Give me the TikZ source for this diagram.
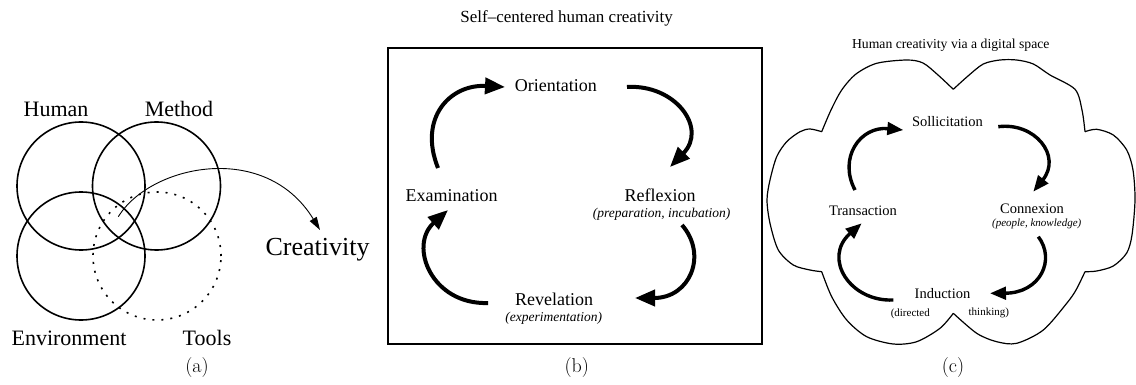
\documentclass[tikz,border=0pt]{standalone}
\usepackage{fontspec}
\usetikzlibrary{arrows.meta}
\newfontfamily\tnr{Liberation Serif}
\tikzset{
  ring/.style={circle, draw, line width=1.6pt, minimum size=128pt, inner sep=0},
  dotring/.style={ring, dash pattern=on 2pt off 7pt},
  biglbl/.style={font=\tnr\fontsize{22}{24}\selectfont, inner sep=0, anchor=base},
  crlbl/.style={font=\tnr\fontsize{26}{28}\selectfont, inner sep=0, anchor=base},
  sublbl/.style={font=\fontsize{20}{22}\selectfont, inner sep=0},
  titleb/.style={font=\tnr\fontsize{17}{19}\selectfont, inner sep=0, anchor=base},
  stageb/.style={font=\tnr\fontsize{18}{20}\selectfont, inner sep=0, anchor=base},
  noteb/.style={font=\tnr\itshape\fontsize{13.5}{15}\selectfont, inner sep=0},
  titlec/.style={font=\tnr\fontsize{13.7}{15}\selectfont, inner sep=0, anchor=base},
  stagec/.style={font=\tnr\fontsize{14.5}{16}\selectfont, inner sep=0, anchor=base},
  notec/.style={font=\tnr\itshape\fontsize{11}{12}\selectfont, inner sep=0},
  smallc/.style={font=\tnr\fontsize{11}{12}\selectfont, inner sep=0},
  thinarrow/.style={line width=0.9pt, -{Triangle[length=13pt,width=8pt]}},
  cyclearrowb/.style={line width=4pt, -{Triangle[length=20pt,width=16pt]}},
  cyclearrowc/.style={line width=3.4pt, -{Triangle[length=16pt,width=12.5pt]}},
  cloudline/.style={line width=1.2pt, line join=miter},
}
\begin{document}
\begin{tikzpicture}[x=1pt,y=-1pt]
\useasboundingbox (0,0) rectangle (1136,385);

% ---------------- (a) ----------------
\node[ring] (human) at (81,186) {};
\node[ring] (method) at (156.5,186) {};
\node[ring] (env) at (81,256) {};
\node[dotring] (tools) at (157,256) {};
\node[biglbl] (humanl) at (56,116.7) {Human};
\node[biglbl] (methodl) at (179,116.7) {Method};
\node[biglbl] (envl) at (69,345) {Environment};
\node[biglbl] (toolsl) at (207,345) {Tools};
\node[crlbl] (creat) at (317.5,255) {Creativity};
\coordinate (astart) at (118.3,216.7);
\coordinate (aend) at (320,230);
\draw[thinarrow] (astart) .. controls (150,165) and (265,140) .. (aend);
\node[sublbl] (la) at (197,368) {(a)};

% ---------------- (b) ----------------
\node[titleb] (titb) at (566.7,22.5) {Self\textendash centered human creativity};
\draw[line width=2pt] (388,48) rectangle (762,344);
\node[stageb] (orient) at (555.8,91.7) {Orientation};
\node[stageb] (exam) at (451.7,201.7) {Examination};
\node[stageb] (reflex) at (660,201.7) {Reflexion};
\node[noteb] (reflexn) at (661.7,213.8) {(preparation, incubation)};
\node[stageb] (revel) at (554,305) {Revelation};
\node[noteb] (reveln) at (553.8,318) {(experimentation)};
\coordinate (b1s) at (438,168);   \coordinate (b1e) at (505,87);
\coordinate (b2s) at (627,87);    \coordinate (b2e) at (670,167);
\coordinate (b3s) at (682,225);   \coordinate (b3e) at (635,298);
\coordinate (b4s) at (488,303);   \coordinate (b4e) at (448,210);
\draw[cyclearrowb] (b1s) .. controls (418,118) and (450,84) .. (b1e);
\draw[cyclearrowb] (b2s) .. controls (675,84) and (708,128) .. (b2e);
\draw[cyclearrowb] (b3s) .. controls (708,255) and (690,298) .. (b3e);
\draw[cyclearrowb] (b4s) .. controls (432,305) and (408,246) .. (b4e);
\node[sublbl] (lb) at (576.7,368) {(b)};

% ---------------- (c) ----------------
\node[titlec] (titc) at (950.8,48.5) {Human creativity via a digital space};
\draw[cloudline]
  plot[smooth,tension=0.5] coordinates {(821.7,131.7) (831,110) (841.7,90) (856,74) (876.7,63.3) (906.7,60) (923,63) (938,75) (953.3,89.3)}
  plot[smooth,tension=0.5] coordinates {(953.3,89.3) (968,76) (983.3,64) (1000,60) (1016.7,60) (1033.3,64) (1050,75) (1075,89.3) (1082,110) (1085,131.7)}
  plot[smooth,tension=0.5] coordinates {(1085,131.7) (1096.7,129.3) (1113.3,135) (1126.7,150) (1133,170) (1135,200) (1132,235) (1126.7,253) (1113.3,266) (1096.7,271) (1085,271.7)}
  plot[smooth,tension=0.5] coordinates {(1085,271.7) (1076,290) (1066.7,303.3) (1043.3,330) (1016.7,343.3) (996.7,341.7) (976.7,333.3) (953.3,313.3)}
  plot[smooth,tension=0.5] coordinates {(953.3,313.3) (940,328.3) (916.7,341.7) (893.3,344) (866.7,336.7) (846.7,320) (831.7,296.7) (821.7,271.7)}
  plot[smooth,tension=0.5] coordinates {(821.7,271.7) (810,270) (793.3,265) (778.3,250) (770,223.3) (767,200) (770,180) (776.7,156.7) (786.7,141.7) (800,131.7) (810,129) (821.7,131.7)};
\node[stagec] (sollic) at (947.5,126.7) {Sollicitation};
\node[stagec] (trans) at (863,215) {Transaction};
\node[stagec] (connex) at (1032,213.3) {Connexion};
\node[notec] (connexn) at (1036.7,224) {(people, knowledge)};
\node[stagec] (induc) at (942.5,298.3) {Induction};
\node[smallc] (induca) at (910.3,314) {(directed};
\node[smallc] (inducb) at (988.8,312.5) {thinking)};
\coordinate (c1s) at (855,190);      \coordinate (c1e) at (903.3,130);
\coordinate (c2s) at (998.3,126.7);  \coordinate (c2e) at (1033.3,191.7);
\coordinate (c3s) at (1038.3,236.7); \coordinate (c3e) at (990,293.3);
\coordinate (c4s) at (893.3,300);    \coordinate (c4e) at (861.7,223.3);
\draw[cyclearrowc] (c1s) .. controls (838,158) and (860,126) .. (c1e);
\draw[cyclearrowc] (c2s) .. controls (1035,122) and (1062,156) .. (c2e);
\draw[cyclearrowc] (c3s) .. controls (1056,260) and (1040,293) .. (c3e);
\draw[cyclearrowc] (c4s) .. controls (850,302) and (822,258) .. (c4e);
\node[sublbl] (lc) at (953,368) {(c)};
\end{tikzpicture}
\end{document}
